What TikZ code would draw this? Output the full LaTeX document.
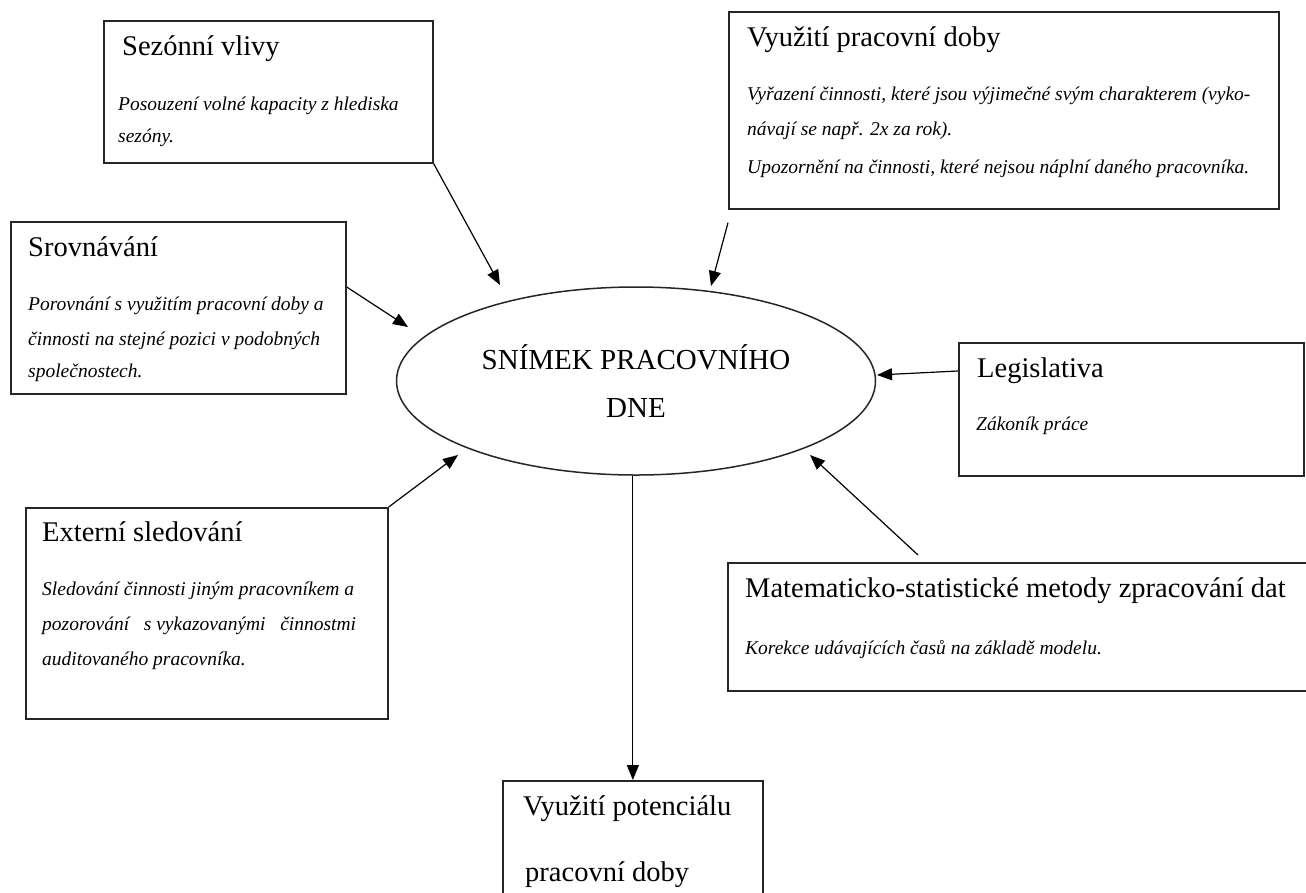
\documentclass[tikz,border=0pt]{standalone}
\usepackage{fontspec}
\setmainfont{Liberation Serif}
\usetikzlibrary{shapes.geometric,arrows.meta,positioning}

\newcommand{\headfont}{\fontsize{28.5}{34}\selectfont}
\newcommand{\notefont}{\fontsize{19.5}{34}\selectfont\itshape}

\tikzset{
  frame/.style={draw=black!85, line width=1.7pt, anchor=north west, inner sep=0pt},
  head/.style={anchor=base west, font=\headfont, inner sep=0pt},
  note/.style={anchor=base west, font=\notefont, inner sep=0pt},
  link/.style={-{Triangle[length=15pt,width=12pt]}, line width=1.2pt}
}

\begin{document}
\begin{tikzpicture}[x=1pt,y=-1pt]
\useasboundingbox[fill=white] (0,0) rectangle (1306,892);

% stred
\node[draw=black!85, ellipse, line width=1.5pt, minimum width=479pt, minimum height=188pt,
      align=center, font=\fontsize{29}{48}\selectfont] (snimek) at (636,381) {SNÍMEK PRACOVNÍHO\\DNE};

% Sezonni vlivy
\node[frame, minimum width=329pt, minimum height=142pt] (sez) at (103,20) {};
\node[head] (sez-title) at ([xshift=19pt,yshift=-35pt]sez.north west) {Sezónní vlivy};
\foreach \dy/\line [count=\n] in {90/{Posouzení volné kapacity z hlediska}, 122/{sezóny.}}
  \node[note] (sez-\n) at ([xshift=15pt,yshift=-\dy pt]sez.north west) {\line};

% Vyuziti pracovni doby
\node[frame, minimum width=550pt, minimum height=197pt] (vyu) at (728,11) {};
\node[head] (vyu-title) at ([xshift=19pt,yshift=-35pt]vyu.north west) {Využití pracovní doby};
\foreach \dy/\line [count=\n] in {89/{Vyřazení činnosti, které jsou výjimečné svým charakterem (vyko-},
    124/{návají se např. 2x za rok).}, 162/{Upozornění na činnosti, které nejsou náplní daného pracovníka.}}
  \node[note] (vyu-\n) at ([xshift=19pt,yshift=-\dy pt]vyu.north west) {\line};

% Srovnavani
\node[frame, minimum width=335pt, minimum height=172pt] (srov) at (10,221) {};
\node[head] (srov-title) at ([xshift=18pt,yshift=-35pt]srov.north west) {Srovnávání};
\foreach \dy/\line [count=\n] in {89/{Porovnání s využitím pracovní doby a},
    124/{činnosti na stejné pozici v podobných}, 156/{společnostech.}}
  \node[note] (srov-\n) at ([xshift=18pt,yshift=-\dy pt]srov.north west) {\line};

% Legislativa
\node[frame, minimum width=345pt, minimum height=133pt] (leg) at (958,342) {};
\node[head] (leg-title) at ([xshift=19pt,yshift=-35pt]leg.north west) {Legislativa};
\node[note] (leg-1) at ([xshift=18pt,yshift=-88pt]leg.north west) {Zákoník práce};

% Externi sledovani
\node[frame, minimum width=362pt, minimum height=211pt] (ext) at (25,507) {};
\node[head] (ext-title) at ([xshift=17pt,yshift=-34pt]ext.north west) {Externí sledování};
\foreach \dy/\line [count=\n] in {88/{Sledování činnosti jiným pracovníkem a},
    123/{pozorování\hspace{0.5em} s vykazovanými\hspace{0.5em} činnostmi}, 158/{auditovaného pracovníka.}}
  \node[note] (ext-\n) at ([xshift=17pt,yshift=-\dy pt]ext.north west) {\line};

% Matematicko-statisticke metody
\node[frame, minimum width=600pt, minimum height=128pt] (mat) at (727,562) {};
\node[head] (mat-title) at ([xshift=18pt,yshift=-35pt]mat.north west) {Matematicko-statistické metody zpracování dat};
\node[note] (mat-1) at ([xshift=18pt,yshift=-92pt]mat.north west) {Korekce udávajících časů na základě modelu.};

% Vyuziti potencialu
\node[frame, minimum width=260pt, minimum height=130pt] (pot) at (502,780) {};
\node[head] (pot-title) at ([xshift=21pt,yshift=-35pt]pot.north west) {Využití potenciálu};
\node[head] (pot-2) at ([xshift=23pt,yshift=-101pt]pot.north west) {pracovní doby};

% sipky
\coordinate (vyu-out) at ([yshift=-13pt]vyu.south west);
\coordinate (srov-out) at ([yshift=-66pt]srov.north east);
\coordinate (leg-out) at ([yshift=-29pt]leg.north west);
\coordinate (mat-out) at ([xshift=191pt,yshift=7pt]mat.north west);
\coordinate (sez-in) at (500,285);
\coordinate (vyu-in) at (711,286);
\coordinate (srov-in) at (408,327);
\coordinate (leg-in) at (877,375);
\coordinate (ext-in) at (458,455);
\coordinate (mat-in) at (810,455);

\draw[link] (sez.south east) -- (sez-in);
\draw[link] (vyu-out) -- (vyu-in);
\draw[link] (srov-out) -- (srov-in);
\draw[link] (leg-out) -- (leg-in);
\draw[link] (ext.north east) -- (ext-in);
\draw[link] (mat-out) -- (mat-in);
\draw[link] (pot.north |- snimek.south) -- (pot.north);
\end{tikzpicture}
\end{document}
